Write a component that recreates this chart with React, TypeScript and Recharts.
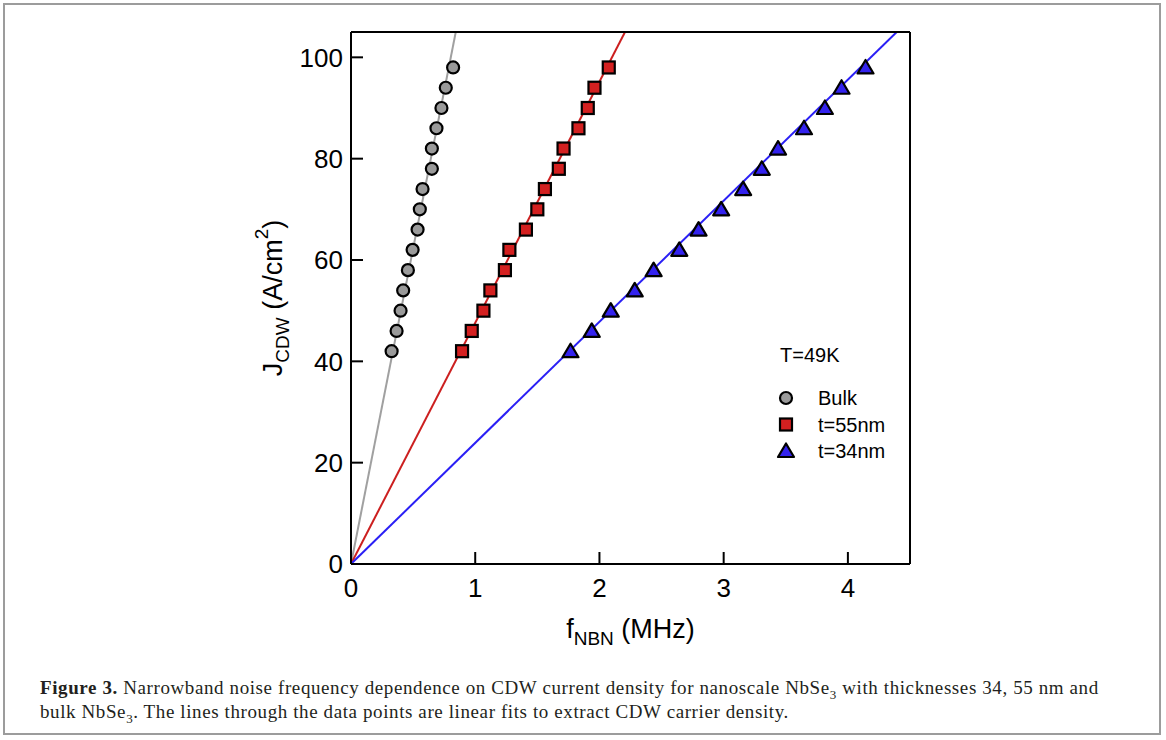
import { ComposedChart, Line, Scatter, XAxis, YAxis } from 'recharts'

// current density steps (A/cm^2), shared by all three samples
const jValues = [42, 46, 50, 54, 58, 62, 66, 70, 74, 78, 82, 86, 90, 94, 98]

// NBN frequency (MHz)
const bulkF = [0.327, 0.367, 0.399, 0.42, 0.458, 0.496, 0.536, 0.554, 0.576, 0.651, 0.651, 0.688, 0.728, 0.763, 0.822]
const nm55F = [0.894, 0.972, 1.066, 1.122, 1.239, 1.275, 1.408, 1.5, 1.561, 1.673, 1.711, 1.831, 1.906, 1.96, 2.075]
const nm34F = [1.767, 1.938, 2.091, 2.284, 2.436, 2.643, 2.798, 2.98, 3.157, 3.307, 3.438, 3.647, 3.815, 3.949, 4.142]

// linear fit slopes through the origin (A/cm^2 per MHz)
const fitSlopes = { bulk: 124.5, nm55: 47.6, nm34: 23.9 }

const xTicks = [0, 1, 2, 3, 4]
const yTicks = [0, 20, 40, 60, 80, 100]
const yMax = 105

const toPoints = (fs: number[]) => fs.map((f, i) => ({ f, j: jValues[i] }))
const fitLine = (slope: number) => [
  { f: 0, j: 0 },
  { f: yMax / slope, j: yMax },
]

const GRAY = '#9a9a9a'
const RED = '#d42020'
const BLUE = '#3322ee'
const LINE_GRAY = '#a0a0a0'
const LINE_RED = '#cc1f1f'
const LINE_BLUE = '#2a1ff5'

const Circle = (p: any) => <circle cx={p.cx} cy={p.cy} r={6} fill={GRAY} stroke="#000" strokeWidth={2.2} />
const Square = (p: any) => <rect x={p.cx - 6} y={p.cy - 6} width={12} height={12} fill={RED} stroke="#000" strokeWidth={2.2} />
const Triangle = (p: any) => (
  <polygon
    points={`${p.cx},${p.cy - 7.5} ${p.cx - 8},${p.cy + 6} ${p.cx + 8},${p.cy + 6}`}
    fill={BLUE}
    stroke="#000"
    strokeWidth={2.2}
    strokeLinejoin="round"
  />
)

const legendTitle = 'T=49K'
const legendItems = [
  { name: 'Bulk', Shape: Circle },
  { name: 't=55nm', Shape: Square },
  { name: 't=34nm', Shape: Triangle },
]

function LegendBox() {
  return (
    <svg width={160} height={130} style={{ position: 'absolute', left: 774, top: 340, overflow: 'visible' }}>
      <text x={6} y={22} fontSize={20} fill="#000">{legendTitle}</text>
      {legendItems.map((it, i) => (
        <g key={it.name}>
          <it.Shape cx={12} cy={58 + i * 26.5} />
          <text x={44} y={65 + i * 26.5} fontSize={20} fill="#000">{it.name}</text>
        </g>
      ))}
    </svg>
  )
}

export default function App() {
  return (
    <div style={{ position: 'absolute', left: 0, top: 0, width: 1166, height: 740, background: '#fff', fontFamily: 'Liberation Sans, Arial, sans-serif' }}>
      <div style={{ position: 'absolute', left: 3, top: 3, width: 1158, height: 732, border: '2px solid #9c9c9c', boxSizing: 'border-box' }} />
      <ComposedChart width={1166} height={740} margin={{ top: 31, right: 255, bottom: 136, left: 291 }}>
        <XAxis
          xAxisId="b"
          type="number"
          dataKey="f"
          domain={[0, 4.5]}
          ticks={xTicks}
          allowDataOverflow
          height={40}
          tickSize={-12}
          tickMargin={27}
          tick={{ fontSize: 26, fill: '#000' }}
          axisLine={{ stroke: '#000', strokeWidth: 2 }}
          tickLine={{ stroke: '#000', strokeWidth: 2 }}
          label={({ viewBox }: any) => (
            <text x={viewBox.x + viewBox.width / 2} y={638} textAnchor="middle" fontSize={27} fill="#000">
              f<tspan fontSize={19} dy={7}>NBN</tspan>
              <tspan dy={-7}> (MHz)</tspan>
            </text>
          )}
        />
        <XAxis xAxisId="t" orientation="top" type="number" dataKey="f" domain={[0, 4.5]} height={1} tick={false} tickLine={false} axisLine={{ stroke: '#000', strokeWidth: 2 }} />
        <YAxis
          yAxisId="l"
          type="number"
          dataKey="j"
          domain={[0, yMax]}
          ticks={yTicks}
          allowDataOverflow
          width={60}
          tickSize={-12}
          tickMargin={20}
          tick={{ fontSize: 26, fill: '#000' }}
          axisLine={{ stroke: '#000', strokeWidth: 2 }}
          tickLine={{ stroke: '#000', strokeWidth: 2 }}
          label={({ viewBox }: any) => (
            <text
              x={282}
              y={viewBox.y + viewBox.height / 2}
              transform={`rotate(-90 282 ${viewBox.y + viewBox.height / 2})`}
              textAnchor="middle"
              fontSize={27}
              fill="#000"
            >
              J<tspan fontSize={19} dy={7}>CDW</tspan>
              <tspan dy={-7}> (A/cm</tspan>
              <tspan fontSize={19} dy={-14}>2</tspan>
              <tspan dy={14}>)</tspan>
            </text>
          )}
        />
        <YAxis yAxisId="r" orientation="right" type="number" dataKey="j" domain={[0, yMax]} width={1} tick={false} tickLine={false} axisLine={{ stroke: '#000', strokeWidth: 2 }} />

        <Line xAxisId="b" yAxisId="l" data={fitLine(fitSlopes.bulk)} dataKey="j" type="linear" stroke={LINE_GRAY} strokeWidth={2} dot={false} isAnimationActive={false} />
        <Line xAxisId="b" yAxisId="l" data={fitLine(fitSlopes.nm55)} dataKey="j" type="linear" stroke={LINE_RED} strokeWidth={2} dot={false} isAnimationActive={false} />
        <Line xAxisId="b" yAxisId="l" data={fitLine(fitSlopes.nm34)} dataKey="j" type="linear" stroke={LINE_BLUE} strokeWidth={2} dot={false} isAnimationActive={false} />

        <Scatter xAxisId="b" yAxisId="l" name="Bulk" data={toPoints(bulkF)} dataKey="j" shape={Circle} isAnimationActive={false} />
        <Scatter xAxisId="b" yAxisId="l" name="t=55nm" data={toPoints(nm55F)} dataKey="j" shape={Square} isAnimationActive={false} />
        <Scatter xAxisId="b" yAxisId="l" name="t=34nm" data={toPoints(nm34F)} dataKey="j" shape={Triangle} isAnimationActive={false} />
      </ComposedChart>
      <LegendBox />
      <div style={{ position: 'absolute', left: 40, top: 676, width: 1110, fontFamily: 'Liberation Serif, serif', fontSize: 19, lineHeight: '24px', color: '#231f20', letterSpacing: 0.6, whiteSpace: 'nowrap' }}>
        <b>Figure 3.</b> Narrowband noise frequency dependence on CDW current density for nanoscale NbSe<sub style={{ fontSize: 13, lineHeight: 0 }}>3</sub> with thicknesses 34, 55 nm and
        <br />
        bulk NbSe<sub style={{ fontSize: 13, lineHeight: 0 }}>3</sub>. The lines through the data points are linear fits to extract CDW carrier density.
      </div>
    </div>
  )
}
